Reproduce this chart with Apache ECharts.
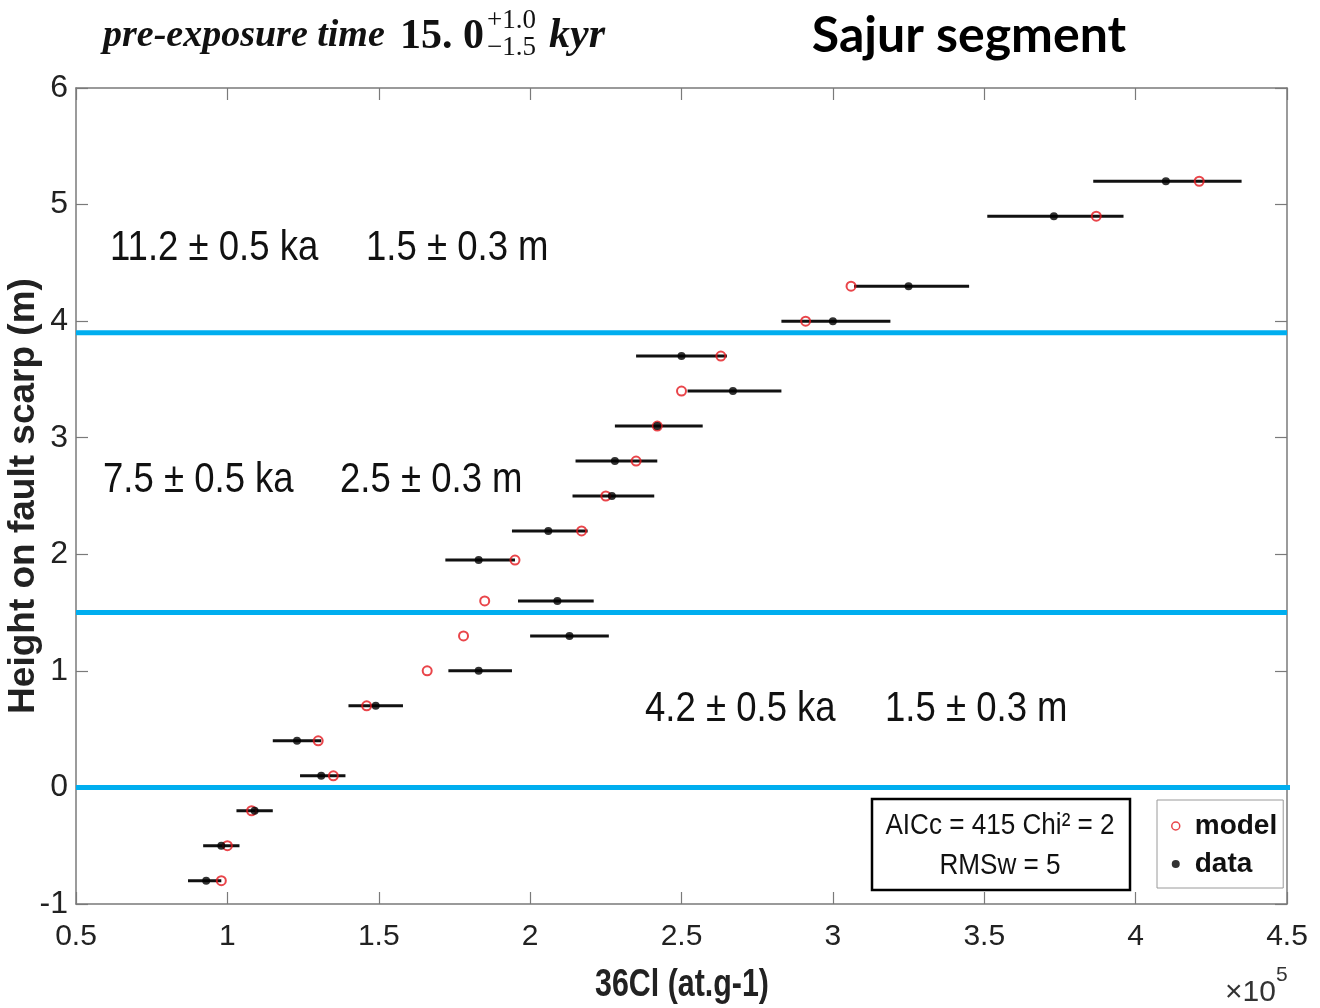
<!DOCTYPE html>
<html>
<head>
<meta charset="utf-8">
<title>Sajur segment – 36Cl profile</title>
<script src="https://cdn.jsdelivr.net/npm/echarts@6/dist/echarts.min.js"></script>
<style>
  html, body { margin: 0; padding: 0; background: #ffffff; }
  #chart { width: 1320px; height: 1008px; }
</style>
</head>
<body>
<div id="chart"></div>
<script>
// Sample heights on the fault scarp (m)
const heights = [5.2, 4.9, 4.3, 4.0, 3.7, 3.4, 3.1, 2.8, 2.5, 2.2, 1.95, 1.6, 1.3, 1.0, 0.7, 0.4, 0.1, -0.2, -0.5, -0.8];
// Measured 36Cl concentrations (x 1e5 at/g)
const dataCl = [4.10, 3.73, 3.25, 3.00, 2.50, 2.67, 2.42, 2.28, 2.27, 2.06, 1.83, 2.09, 2.13, 1.83, 1.49, 1.23, 1.31, 1.09, 0.98, 0.93];
// Modelled 36Cl concentrations (x 1e5 at/g)
const modelCl = [4.21, 3.87, 3.06, 2.91, 2.63, 2.50, 2.42, 2.35, 2.25, 2.17, 1.95, 1.85, 1.78, 1.66, 1.46, 1.30, 1.35, 1.08, 1.00, 0.98];
// Analytical uncertainty range of the measurements
const errLow  = [3.86, 3.51, 3.07, 2.83, 2.35, 2.52, 2.28, 2.15, 2.14, 1.94, 1.72, 1.96, 2.00, 1.73, 1.40, 1.15, 1.24, 1.03, 0.92, 0.87];
const errHigh = [4.35, 3.96, 3.45, 3.19, 2.65, 2.83, 2.57, 2.42, 2.41, 2.19, 1.95, 2.21, 2.26, 1.94, 1.58, 1.31, 1.39, 1.15, 1.04, 0.98];
// Heights of the modelled rupture boundaries (m) and their right-hand ends
const boundaries = [3.9, 1.5, 0];
const boundaryEnds = [4.5, 4.5, 4.52];
// Event annotations: age and slip for each rupture
const eventAges  = ['11.2 ± 0.5 ka', '7.5 ± 0.5 ka', '4.2 ± 0.5 ka'];
const eventSlips = ['1.5 ± 0.3 m', '2.5 ± 0.3 m', '1.5 ± 0.3 m'];
// Axis ranges [min, max, step]
const xRange = [0.5, 4.5, 0.5];
const yRange = [-1, 6, 1];

const SANS = '"Liberation Sans", Arial, sans-serif';
const SERIF = '"Liberation Serif", "DejaVu Serif", serif';
const AXIS_GREY = '#7a7a7a';
const BLUE = '#00aeef';
const RED = '#e3161d';
const SQUEEZE = 0.87;   // horizontal squeeze for the condensed-looking labels

const chart = echarts.init(document.getElementById('chart'), null, { renderer: 'canvas' });

const baseX = {
  type: 'value', min: xRange[0], max: xRange[1], interval: xRange[2],
  axisLine: { show: true, onZero: false, lineStyle: { color: AXIS_GREY, width: 1.5 } },
  axisTick: { show: true, inside: true, length: 12, lineStyle: { color: AXIS_GREY, width: 1.2 } },
  splitLine: { show: false }
};
const baseY = {
  type: 'value', min: yRange[0], max: yRange[1], interval: yRange[2],
  axisLine: { show: true, onZero: false, lineStyle: { color: AXIS_GREY, width: 1.5 } },
  axisTick: { show: true, inside: true, length: 12, lineStyle: { color: AXIS_GREY, width: 1.2 } },
  splitLine: { show: false }
};

const boundarySeries = boundaries.map((b, i) => ({
  type: 'line',
  name: 'boundary ' + b,
  data: [[xRange[0], b], [boundaryEnds[i], b]],
  symbol: 'none',
  silent: true,
  clip: false,
  z: 1,
  lineStyle: { color: BLUE, width: 5 }
}));

function label(x, y, text, font, extra) {
  return Object.assign({
    type: 'text', x: x, y: y, scaleX: SQUEEZE,
    style: { text: text, font: font, fill: '#111', textVerticalAlign: 'middle' }
  }, extra || {});
}

const option = {
  backgroundColor: '#ffffff',
  animation: false,
  grid: { left: 76, right: 33, top: 88, bottom: 104, containLabel: false, outerBoundsMode: 'none' },
  xAxis: [
    Object.assign({}, baseX, {
      position: 'bottom',
      axisLabel: { show: true, fontFamily: SANS, fontSize: 30, color: '#222', margin: 18, showMaxLabel: true, showMinLabel: true }
    }),
    Object.assign({}, baseX, { position: 'top', axisLabel: { show: false } })
  ],
  yAxis: [
    Object.assign({}, baseY, {
      position: 'left',
      axisLabel: { show: true, fontFamily: SANS, fontSize: 32, color: '#222', margin: 8 },
      name: 'Height on fault scarp (m)',
      nameLocation: 'middle',
      nameGap: 34,
      nameMoveOverlap: false,
      nameRotate: 90,
      nameTextStyle: { fontFamily: SANS, fontWeight: 'bold', fontSize: 37, color: '#222' }
    }),
    Object.assign({}, baseY, { position: 'right', axisLabel: { show: false } })
  ],
  legend: {
    orient: 'vertical',
    left: 1157, top: 800,
    padding: [12, 6, 10, 14],
    itemGap: 10,
    itemWidth: 8, itemHeight: 8,
    borderColor: '#9a9a9a', borderWidth: 1,
    backgroundColor: '#ffffff',
    textStyle: { fontFamily: SANS, fontWeight: 'bold', fontSize: 28, color: '#111', padding: [0, 0, 0, 10] },
    data: [
      { name: 'model', icon: 'circle', itemStyle: { color: '#ffffff', borderColor: RED, borderWidth: 1.5 } },
      { name: 'data', icon: 'circle', itemStyle: { color: '#000000' } }
    ]
  },
  series: boundarySeries.concat([
    {
      type: 'custom',
      name: 'uncertainty',
      silent: true,
      z: 3,
      data: heights.map((h, i) => [errLow[i], errHigh[i], h]),
      encode: { x: [0, 1], y: 2 },
      renderItem: (params, api) => {
        const a = api.coord([api.value(0), api.value(2)]);
        const b = api.coord([api.value(1), api.value(2)]);
        return {
          type: 'line',
          shape: { x1: a[0], y1: a[1], x2: b[0], y2: b[1] },
          style: { stroke: '#111111', lineWidth: 3 }
        };
      }
    },
    {
      type: 'scatter',
      name: 'model',
      z: 4,
      symbol: 'circle',
      symbolSize: 9,
      itemStyle: { color: 'rgba(255,255,255,0)', borderColor: RED, borderWidth: 2 },
      data: heights.map((h, i) => [modelCl[i], h])
    },
    {
      type: 'scatter',
      name: 'data',
      z: 5,
      symbol: 'circle',
      symbolSize: 8,
      itemStyle: { color: '#000000' },
      data: heights.map((h, i) => [dataCl[i], h])
    }
  ]),
  graphic: [
    // heading: pre-exposure time with asymmetric uncertainty
    { type: 'text', x: 103, y: 36, style: { text: 'pre-exposure time', font: 'italic bold 38px ' + SERIF, fill: '#111', textVerticalAlign: 'middle' } },
    { type: 'text', x: 400, y: 37, style: { text: '15. 0', font: 'bold 42px ' + SERIF, fill: '#111', textVerticalAlign: 'middle' } },
    { type: 'text', x: 487, y: 21, style: { text: '+1.0', font: '27px ' + SERIF, fill: '#111', textVerticalAlign: 'middle' } },
    { type: 'text', x: 487, y: 48, style: { text: '\u22121.5', font: '27px ' + SERIF, fill: '#111', textVerticalAlign: 'middle' } },
    { type: 'text', x: 549, y: 36, style: { text: 'kyr', font: 'italic bold 42px ' + SERIF, fill: '#111', textVerticalAlign: 'middle' } },
    { type: 'text', x: 969, y: 36, style: { text: 'Sajur segment', font: 'bold 50px Lato, "Open Sans", sans-serif', fill: '#000', textAlign: 'center', textVerticalAlign: 'middle' } },

    // event annotations
    label(110, 248, eventAges[0], '42px ' + SANS),
    label(366, 248, eventSlips[0], '42px ' + SANS),
    label(103, 480, eventAges[1], '42px ' + SANS),
    label(340, 480, eventSlips[1], '42px ' + SANS),
    label(645, 709, eventAges[2], '42px ' + SANS),
    label(885, 709, eventSlips[2], '42px ' + SANS),

    // fit statistics box
    { type: 'rect', z: 10, shape: { x: 872, y: 799, width: 258, height: 91 }, style: { fill: '#ffffff', stroke: '#000', lineWidth: 2.5 } },
    label(1000, 826, 'AICc = 415 Chi\u00b2 = 2', '30px ' + SANS, { z: 11, style: { text: 'AICc = 415 Chi\u00b2 = 2', font: '30px ' + SANS, fill: '#111', textAlign: 'center', textVerticalAlign: 'middle' } }),
    label(1000, 866, 'RMSw = 5', '30px ' + SANS, { z: 11, style: { text: 'RMSw = 5', font: '30px ' + SANS, fill: '#111', textAlign: 'center', textVerticalAlign: 'middle' } }),

    // x-axis title and multiplier
    { type: 'text', x: 682, y: 986, scaleX: 0.8, style: { text: '36Cl (at.g-1)', font: 'bold 38px ' + SANS, fill: '#222', textAlign: 'center', textVerticalAlign: 'middle' } },
    { type: 'text', x: 1225, y: 993, style: { text: '\u00d710', font: '30px ' + SANS, fill: '#333', textVerticalAlign: 'middle' } },
    { type: 'text', x: 1276, y: 975, style: { text: '5', font: '21px ' + SANS, fill: '#333', textVerticalAlign: 'middle' } }
  ]
};

chart.setOption(option);
</script>
</body>
</html>
